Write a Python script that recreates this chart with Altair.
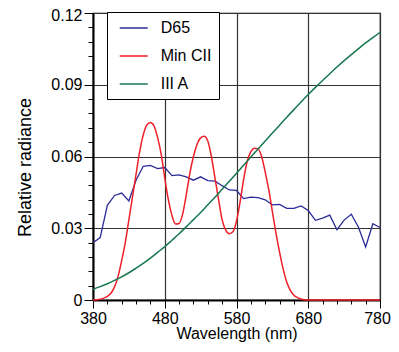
import altair as alt
import pandas as pd

# ---- data ----
series_names = ["D65", "Min CII", "III A"]
series_colors = ["#2b2b98", "#f0202a", "#17784f"]

wl_10 = [380, 390, 400, 410, 420, 430, 440, 450, 460, 470, 480, 490, 500, 510,
         520, 530, 540, 550, 560, 570, 580, 590, 600, 610, 620, 630, 640, 650,
         660, 670, 680, 690, 700, 710, 720, 730, 740, 750, 760, 770, 780]

d65 = [0.0239, 0.0261, 0.0396, 0.0437, 0.0447, 0.0414, 0.0501, 0.0559, 0.0563,
       0.0549, 0.0554, 0.0520, 0.0523, 0.0515, 0.0501, 0.0515, 0.0499, 0.0497,
       0.0478, 0.0460, 0.0458, 0.0424, 0.0430, 0.0428, 0.0419, 0.0398, 0.0400,
       0.0383, 0.0383, 0.0393, 0.0374, 0.0333, 0.0342, 0.0355, 0.0294, 0.0334,
       0.0359, 0.0304, 0.0222, 0.0319, 0.0303]

ill_a = [0.0045, 0.0056, 0.0068, 0.0082, 0.0097, 0.0114, 0.0133, 0.0153, 0.0175,
         0.0199, 0.0223, 0.0250, 0.0277, 0.0306, 0.0336, 0.0366, 0.0398, 0.0430,
         0.0463, 0.0496, 0.0530, 0.0564, 0.0598, 0.0631, 0.0665, 0.0698, 0.0731,
         0.0764, 0.0796, 0.0828, 0.0859, 0.0889, 0.0918, 0.0946, 0.0974, 0.1001,
         0.1026, 0.1051, 0.1075, 0.1097, 0.1119]

wl_5 = [380, 385, 390, 395, 400, 405, 410, 415, 420, 425, 430, 435, 440, 445,
        450, 455, 460, 465, 470, 475, 480, 485, 490, 495, 500, 505, 510, 515,
        520, 525, 530, 535, 540, 545, 550, 555, 560, 565, 570, 575, 580, 585,
        590, 595, 600, 605, 610, 615, 620, 625, 630, 635, 640, 645, 650, 655,
        660, 665, 670, 675, 680, 685, 690, 695, 700, 705, 710, 715, 720, 725,
        730, 735, 740, 745, 750, 755, 760, 765, 770, 775, 780]

min_cii = [0.0000, 0.0001, 0.0003, 0.0008, 0.0015, 0.0028, 0.0055, 0.0100, 0.0165,
           0.0240, 0.0335, 0.0430, 0.0525, 0.0620, 0.0690, 0.0732, 0.0742, 0.0728,
           0.0680, 0.0610, 0.0510, 0.0420, 0.0355, 0.0318, 0.0320, 0.0360, 0.0440,
           0.0530, 0.0600, 0.0650, 0.0678, 0.0685, 0.0665, 0.0600, 0.0510, 0.0420,
           0.0335, 0.0292, 0.0277, 0.0285, 0.0330, 0.0410, 0.0505, 0.0580, 0.0620,
           0.0635, 0.0632, 0.0600, 0.0535, 0.0460, 0.0370, 0.0280, 0.0200, 0.0130,
           0.0075, 0.0040, 0.0020, 0.0010, 0.0004, 0.0001, 0.0000, 0.0000, 0.0000,
           0.0000, 0.0000, 0.0000, 0.0000, 0.0000, 0.0000, 0.0000, 0.0000, 0.0000,
           0.0000, 0.0000, 0.0000, 0.0000, 0.0000, 0.0000, 0.0000, 0.0000, 0.0000]

x_ticks = [380, 400, 420, 440, 460, 480, 500, 520, 540, 560, 580, 600, 620, 640,
           660, 680, 700, 720, 740, 760, 780]
y_ticks = [0, 0.006, 0.012, 0.018, 0.024, 0.03, 0.036, 0.042, 0.048, 0.054, 0.06,
           0.066, 0.072, 0.078, 0.084, 0.09, 0.096, 0.102, 0.108, 0.114, 0.12]

rows = []
for w, v in zip(wl_10, d65):
    rows.append({"wavelength": w, "value": v, "series": "D65"})
for w, v in zip(wl_5, min_cii):
    rows.append({"wavelength": w, "value": v, "series": "Min CII"})
for w, v in zip(wl_10, ill_a):
    rows.append({"wavelength": w, "value": v, "series": "III A"})
df = pd.DataFrame(rows)

FONT = "Liberation Sans"

x_major = "(datum.value - 380) % 100 == 0"
y_major = "round(datum.value * 1000) % 30 == 0"

x_enc = alt.X(
    "wavelength:Q",
    scale=alt.Scale(domain=[380, 780], nice=False, zero=False),
    axis=alt.Axis(
        values=x_ticks,
        title="Wavelength (nm)",
        labelExpr=f"{x_major} ? datum.label : ''",
        grid=True,
        gridColor="#333333",
        gridWidth=1.2,
        gridOpacity={"condition": {"test": x_major, "value": 1}, "value": 0},
        tickSize={"condition": {"test": x_major, "value": 8}, "value": 4},
        tickColor="black",
        tickWidth=1,
        domainColor="black",
        domainWidth=2,
        labelFont=FONT,
        labelFontSize=16,
        labelColor="black",
        labelPadding=2,
        labelFlush=False,
        labelOverlap=False,
        labelOffset={"condition": {"test": "datum.value >= 779", "value": -3}, "value": 0},
        titleFont=FONT,
        titleFontSize=16,
        titleFontWeight="normal",
        titleColor="black",
        titlePadding=-0.5,
    ),
)

y_enc = alt.Y(
    "value:Q",
    scale=alt.Scale(domain=[0, 0.12], nice=False, zero=True),
    axis=alt.Axis(
        values=y_ticks,
        title="Relative radiance",
        labelExpr=f"{y_major} ? (datum.value == 0 ? '0' : format(datum.value, '.2f')) : ''",
        grid=True,
        gridColor="#333333",
        gridWidth=1.2,
        gridOpacity={"condition": {"test": y_major, "value": 1}, "value": 0},
        tickSize={"condition": {"test": y_major, "value": 9}, "value": 5},
        tickColor="black",
        tickWidth=1,
        domainColor="black",
        domainWidth=2,
        labelFont=FONT,
        labelFontSize=16,
        labelColor="black",
        labelPadding=2,
        labelFlush=False,
        labelOverlap=False,
        labelOffset={"condition": {"test": "datum.value >= 0.119", "value": 2}, "value": 0},
        titleFont=FONT,
        titleFontSize=18,
        titleFontWeight="normal",
        titleColor="black",
        titlePadding=16.5,
        titleY=154,
    ),
)

color_enc = alt.Color(
    "series:N",
    scale=alt.Scale(domain=series_names, range=series_colors),
    legend=alt.Legend(
        title=None,
        orient="none",
        legendX=14,
        legendY=-1,
        direction="vertical",
        symbolType="M-0.41,0H3.09",
        symbolSize=256,
        symbolStrokeWidth=1.5,
        labelFont=FONT,
        labelFontSize=16,
        labelColor="black",
        labelOffset=28.7,
        rowPadding=11,
        padding=7,
        strokeColor="black",
        fillColor="white",
    ),
)

base = alt.Chart(df).encode(x=x_enc, y=y_enc, color=color_enc)

blue = base.transform_filter(alt.datum.series == "D65").mark_line(
    strokeWidth=1.3, interpolate="linear")
others = base.transform_filter(alt.datum.series != "D65").mark_line(
    strokeWidth=1.5, interpolate="monotone")

chart = (
    alt.layer(blue, others)
    .properties(
        width=287,
        height=287,
        autosize=alt.AutoSizeParams(type="none"),
        padding={"left": 85, "top": 5, "right": 11, "bottom": 44},
    )
    .configure_view(stroke="black", strokeWidth=1.2)
)

chart.save("out.html", embed_options={"renderer": "svg", "actions": False})
